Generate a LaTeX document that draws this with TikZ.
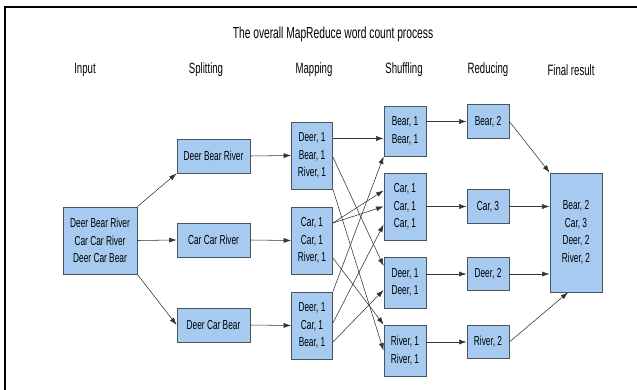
\documentclass[tikz,border=0pt]{standalone}
\usepackage{fontspec}
\setmainfont{Liberation Sans}[FakeStretch=0.64]
\usepackage{tikz}
\usetikzlibrary{calc,arrows.meta}
\definecolor{boxblue}{HTML}{A6CAF0}
\definecolor{boxline}{RGB}{75,85,95}
\tikzset{
	wbox/.style={draw=boxline, line width=0.8pt, fill=boxblue, align=center, inner sep=0pt, font=\fontsize{13}{17.5}\selectfont},
	inbox/.style={wbox, minimum width=74, minimum height=67},
	splitbox/.style={wbox, minimum width=73, minimum height=34},
	mapbox/.style={wbox, minimum width=41, minimum height=67},
	shufbox/.style={wbox, minimum width=42},
	redbox/.style={wbox, minimum width=42, minimum height=33.5},
	head/.style={font=\fontsize{15}{17}\selectfont},
	arr/.style={-{Latex[length=7.5pt,width=5pt]}, line width=0.55pt, color=black!80},
}

\begin{document}
\begin{tikzpicture}[x=1pt, y=-1pt]
			%%%%% START %%%%%
			\useasboundingbox (0, 0) rectangle (637, 390);
			
			\draw[line width=2pt] (4.5, 390) -- (4.5, 7.5) -- (637, 7.5);
			
			\node[font=\fontsize{16}{18}\selectfont] (title) at (333, 34) {The overall MapReduce word count process};
			
			\node[head] (hInput) at (85, 70) {Input};
			\node[head] (hSplit) at (206, 70) {Splitting};
			\node[head] (hMap) at (314, 70) {Mapping};
			\node[head] (hShuf) at (404, 70) {Shuffling};
			\node[head] (hRed) at (488, 70) {Reducing};
			\node[head] (hFinal) at (571, 70) {Final result};
			
			\node[inbox] (inp) at (100, 240.5) {Deer Bear River\\Car Car River\\Deer Car Bear};
			
			\node[splitbox] (splitA) at (213.5, 156) {Deer Bear River};
			\node[splitbox] (splitB) at (213.5, 240) {Car Car River};
			\node[splitbox] (splitC) at (213.5, 325) {Deer Car Bear};
			
			\node[mapbox] (mapA) at (312, 155.5) {Deer, 1\\Bear, 1\\River, 1};
			\node[mapbox] (mapB) at (312, 240.5) {Car, 1\\Car, 1\\River, 1};
			\node[mapbox] (mapC) at (312, 325.5) {Deer, 1\\Car, 1\\Bear, 1};
			
			\node[shufbox, minimum height=50] (shufBear) at (405, 131) {Bear, 1\\Bear, 1};
			\node[shufbox, minimum height=67] (shufCar) at (405, 206.5) {Car, 1\\Car, 1\\Car, 1};
			\node[shufbox, minimum height=51] (shufDeer) at (405, 282.5) {Deer, 1\\Deer, 1};
			\node[shufbox, minimum height=51] (shufRiver) at (405, 350.5) {River, 1\\River, 1};
			
			\node[redbox] (redBear) at (488, 121.5) {Bear, 2};
			\node[redbox] (redCar) at (488, 206.5) {Car, 3};
			\node[redbox] (redDeer) at (488, 274) {Deer, 2};
			\node[redbox] (redRiver) at (488, 342) {River, 2};
			
			\node[wbox, minimum width=52, minimum height=119] (final) at (576, 232.5) {Bear, 2\\Car, 3\\Deer, 2\\River, 2};
			
			% input to splitting
			\draw[arr] (inp.north east) -- (splitA.south west);
			\draw[arr] (inp.east) -- (splitB.west);
			\draw[arr] (inp.south east) -- (splitC.west);
			
			% splitting to mapping
			\draw[arr] (splitA.east) -- (mapA.west);
			\draw[arr] (splitB.east) -- (mapB.west);
			\draw[arr] (splitC.east) -- (mapC.west);
			
			% mapping to shuffling
			\draw[arr] ($(mapA.east)+(0,-17)$) -- ($(shufBear.west)+(0,7.5)$);
			\draw[arr] ($(mapA.east)+(0,1.5)$) -- ($(shufDeer.west)+(0,-16.5)$);
			\draw[arr] (mapA.south east) -- (shufRiver.west);
			\draw[arr] ($(mapB.east)+(0,-17.5)$) -- ($(shufCar.west)+(0,-16)$);
			\draw[arr] ($(mapB.east)+(0,-17.5)$) -- (shufCar.west);
			\draw[arr] ($(mapB.east)+(0,17.5)$) -- (shufRiver.north west);
			\draw[arr] (mapC.north east) -- (shufBear.south west);
			\draw[arr] ($(mapC.east)+(0,-2.5)$) -- ($(shufCar.west)+(0,18)$);
			\draw[arr] ($(mapC.east)+(0,16.5)$) -- ($(shufDeer.west)+(0,7.5)$);
			
			% shuffling to reducing
			\draw[arr] (shufBear.east |- redBear.west) -- (redBear.west);
			\draw[arr] (shufCar.east |- redCar.west) -- (redCar.west);
			\draw[arr] (shufDeer.east |- redDeer.west) -- (redDeer.west);
			\draw[arr] (shufRiver.east |- redRiver.west) -- (redRiver.west);
			
			% reducing to final result
			\draw[arr] (redBear.east) -- (final.north west);
			\draw[arr] (redCar.east) -- (final.west |- redCar.east);
			\draw[arr] (redDeer.east) -- (final.west |- redDeer.east);
			\draw[arr] (redRiver.east) -- ($(final.south)+(-8,0)$);
			
			%%%%% END %%%%%
\end{tikzpicture}
\end{document}
